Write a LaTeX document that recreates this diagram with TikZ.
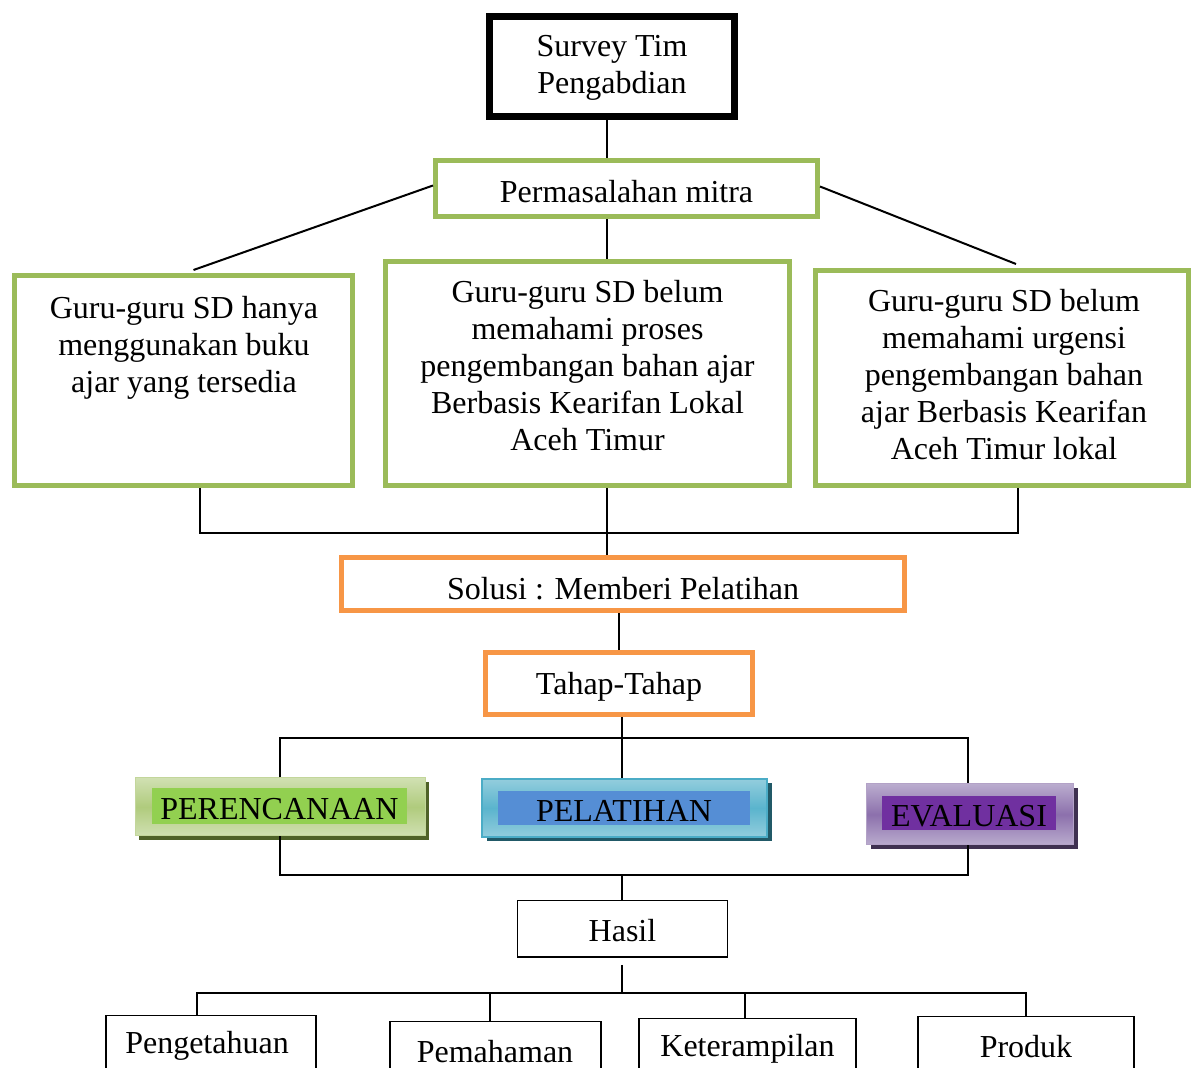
\documentclass[tikz,border=0pt]{standalone}
\usepackage{fontspec}
\setmainfont{Liberation Serif}
\usetikzlibrary{shadings}
\definecolor{grn}{HTML}{9BBB59}
\definecolor{org}{HTML}{F79646}
\begin{document}
\begin{tikzpicture}[x=0.5pt,y=-0.5pt,
  every node/.style={font=\fontsize{16}{18.5}\selectfont, inner sep=0pt},
  con/.style={line width=1pt, black},
  gbox/.style={draw=grn, line width=2.5pt},
  obox/.style={draw=org, line width=2.5pt},
  tbox/.style={draw=black, line width=0.75pt},
  txt/.style={align=center}]
\clip (0,0) rectangle (1191,1068);
\fill[white] (0,0) rectangle (1191,1068);

% top boxes
\node[draw, line width=3.5pt, minimum width=122.5pt, minimum height=50pt] (survey) at (612,66.5) {};
\node[txt] (surveyt) at (612,68) {Survey Tim\\Pengabdian};
\node[gbox, minimum width=191pt, minimum height=28pt] (perm) at (626.5,188.5) {};
\node (permt) at (626.5,192) {Permasalahan mitra};

\node[gbox, minimum width=169pt, minimum height=105pt] (b1) at (183.5,380.5) {};
\node[gbox, minimum width=202pt, minimum height=112pt] (b2) at (587.5,373.5) {};
\node[gbox, minimum width=186.5pt, minimum height=107.5pt] (b3) at (1002,378) {};
\node[txt] (b1t) at (184,348) {Guru-guru SD hanya\\menggunakan buku\\ajar yang tersedia};
\node[txt] (b2t) at (587.5,366) {Guru-guru SD belum\\memahami proses\\pengembangan bahan ajar\\Berbasis Kearifan Lokal\\Aceh Timur};
\node[txt] (b3t) at (1004,375) {Guru-guru SD belum\\memahami urgensi\\pengembangan bahan\\ajar Berbasis Kearifan\\Aceh Timur lokal};

\node[obox, minimum width=281.5pt, minimum height=26.5pt] (sol) at (623,584) {};
\node (solt) at (623,589) {Solusi : Memberi Pelatihan};
\node[obox, minimum width=133.5pt, minimum height=31pt] (tahap) at (619,683.5) {};
\node (tahapt) at (619,687) {Tahap-Tahap};

% coloured boxes
\node[fill={rgb,255:red,79;green,98;blue,40}, minimum width=145pt, minimum height=29pt] (pershd) at (284,811) {};
\node[draw={rgb,255:red,195;green,214;blue,155}, line width=0.5pt, top color={rgb,255:red,208;green,224;blue,178}, bottom color={rgb,255:red,208;green,224;blue,178}, middle color={rgb,255:red,176;green,203;blue,125}, minimum width=145pt, minimum height=29pt] (per) at (280,807) {};
\node[fill={rgb,255:red,146;green,208;blue,80}, minimum width=127.5pt, minimum height=18pt] (perin) at (279.5,806) {};
\node (pert) at (279.5,809) {PERENCANAAN};

\node[fill={rgb,255:red,33;green,89;blue,103}, minimum width=142.5pt, minimum height=29pt] (pelshd) at (629,812) {};
\node[draw={rgb,255:red,75;green,172;blue,198}, line width=0.75pt, top color={rgb,255:red,147;green,205;blue,221}, bottom color={rgb,255:red,147;green,205;blue,221}, middle color={rgb,255:red,90;green,180;blue,205}, minimum width=142.5pt, minimum height=29pt] (pel) at (624.5,808) {};
\node[fill={rgb,255:red,85;green,142;blue,213}, minimum width=126pt, minimum height=17pt] (pelin) at (624,808) {};
\node (pelt) at (624,811) {PELATIHAN};

\node[fill={rgb,255:red,63;green,49;blue,81}, minimum width=103.5pt, minimum height=30.5pt] (evashd) at (974,818.5) {};
\node[draw={rgb,255:red,179;green,162;blue,199}, line width=0.5pt, top color={rgb,255:red,186;green,172;blue,206}, bottom color={rgb,255:red,186;green,172;blue,206}, middle color={rgb,255:red,140;green,112;blue,172}, minimum width=103.5pt, minimum height=30.5pt] (eva) at (969.5,814.5) {};
\node[fill={rgb,255:red,112;green,48;blue,160}, minimum width=87pt, minimum height=17pt] (evain) at (969,813) {};
\node (evat) at (969,816) {EVALUASI};

% bottom boxes
\node[tbox, minimum width=105pt, minimum height=28.25pt] (hasil) at (622.5,929) {};
\node (hasilt) at (622.5,931) {Hasil};
\node[tbox, minimum width=105pt, minimum height=30pt, anchor=north] (peng) at (211,1015) {};
\node (pengt) at (207,1046) {Pengetahuan};
\node[tbox, minimum width=105.5pt, minimum height=30pt, anchor=north] (pem) at (495.5,1021) {};
\node (pemt) at (495,1052) {Pemahaman};
\node[tbox, minimum width=108.5pt, minimum height=30pt, anchor=north] (ket) at (747.5,1018) {};
\node (kett) at (747.5,1049) {Keterampilan};
\node[tbox, minimum width=108pt, minimum height=30pt, anchor=north] (prod) at (1026,1016) {};
\node (prodt) at (1026,1047) {Produk};

% junction coordinates
\coordinate (j1) at (607,533);
\coordinate (j2) at (622,738);
\coordinate (j3) at (622,875);
\coordinate (j4) at (622,993);

% connectors
\draw[con] ([xshift=-2.5pt]survey.south) -- ([xshift=-2.5pt]survey.south |- perm.north);
\draw[con] ([yshift=1.5pt]perm.west) -- ([xshift=5pt,yshift=1.5pt]b1.north);
\draw[con] ([yshift=1pt]perm.east) -- ([xshift=7pt,yshift=2pt]b3.north);
\draw[con] ([xshift=-9.75pt]perm.south) -- ([xshift=-9.75pt]perm.south |- b2.north);
\draw[con] ([xshift=8.25pt]b1.south) |- (j1) -| ([xshift=8pt]b3.south);
\draw[con] ([xshift=9.75pt]b2.south) -- ([xshift=9.75pt]b2.south |- sol.north);
\draw[con] (tahap.north) -- (tahap.north |- sol.south);
\draw[con] ([xshift=1.5pt]tahap.south) -- ([xshift=1.5pt]tahap.south |- pel.north);
\draw[con] (per.north) |- (j2) -| ([xshift=-0.75pt]eva.north);
\draw[con] (per.south) |- (j3) -| ([xshift=-0.75pt]eva.south);
\draw[con] (j3) -- (j3 |- hasil.north);
\draw[con] ([xshift=-0.25pt,yshift=-3.5pt]hasil.south) -- (j4);
\draw[con, line width=1.2pt] ([xshift=-7pt]peng.north) |- (j4) -| (prod.north);
\draw[con] ([xshift=-2.75pt]pem.north) -- ([xshift=-2.75pt]pem.north |- j4);
\draw[con] ([xshift=-1.25pt]ket.north) -- ([xshift=-1.25pt]ket.north |- j4);
\end{tikzpicture}
\end{document}
